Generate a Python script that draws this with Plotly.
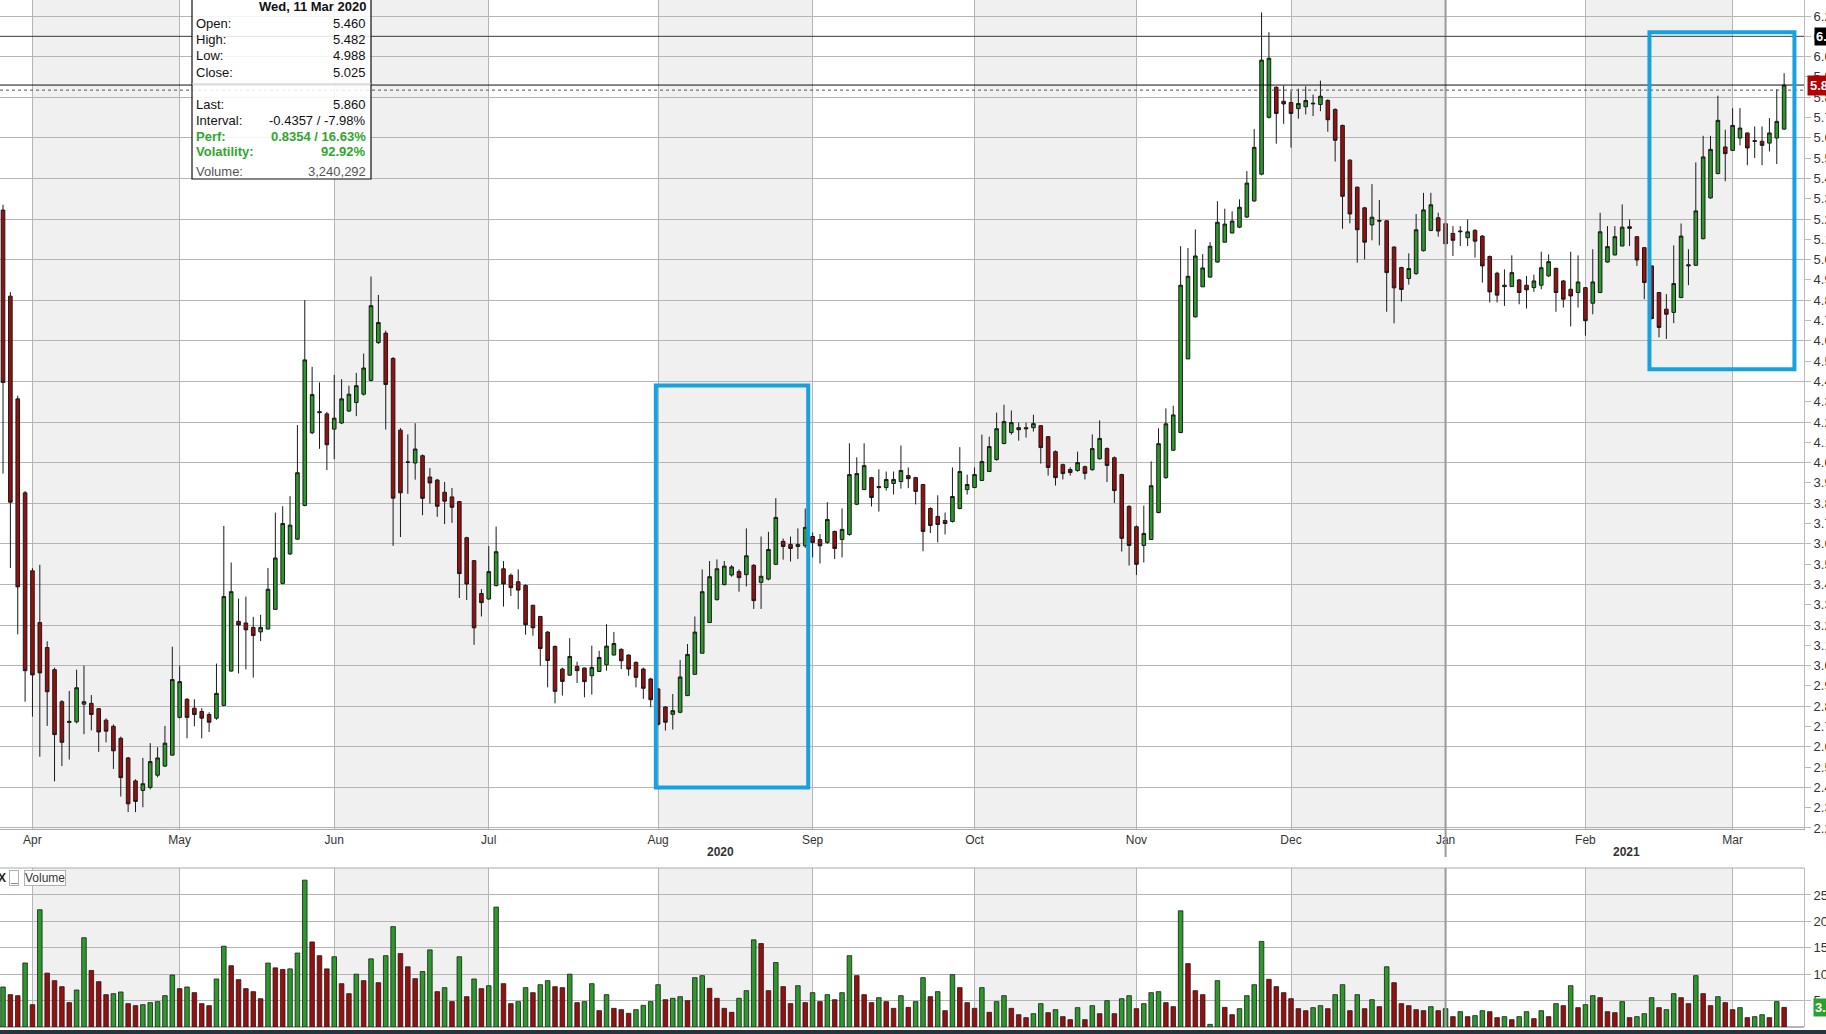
import pandas as pd
import plotly.graph_objects as go

# trading days shown (exchange holidays removed)
holidays = ["2020-04-10", "2020-04-13", "2020-06-08", "2020-12-25",
            "2020-12-28", "2021-01-01", "2021-01-26"]
dates = pd.bdate_range("2020-03-26", "2021-03-10", freq="C", holidays=holidays)
days = [d.strftime("%Y-%m-%d") for d in dates]

opens = [
    5.244, 4.820, 4.314, 3.851, 3.467, 3.212, 3.089, 2.980, 2.822, 2.720,
    2.723, 2.810, 2.814, 2.788, 2.731, 2.701, 2.642, 2.545, 2.432, 2.385,
    2.400, 2.460, 2.505, 2.559, 2.745, 2.834, 2.790, 2.774, 2.759, 2.741,
    2.804, 2.973, 3.218, 3.210, 3.188, 3.166, 3.180, 3.277, 3.405, 3.550,
    3.623, 3.789, 4.147, 4.246, 4.240, 4.165, 4.195, 4.254, 4.296, 4.337,
    4.405, 4.591, 4.638, 4.513, 4.160, 4.001, 3.998, 4.034, 3.929, 3.914,
    3.854, 3.831, 3.808, 3.630, 3.517, 3.355, 3.328, 3.394, 3.477, 3.445,
    3.413, 3.395, 3.297, 3.242, 3.165, 3.094, 2.983, 2.953, 2.996, 2.988,
    2.950, 2.971, 3.004, 3.052, 3.080, 3.052, 3.016, 2.983, 2.934, 2.885,
    2.796, 2.760, 2.770, 2.852, 2.957, 3.061, 3.212, 3.325, 3.399, 3.446,
    3.463, 3.448, 3.494, 3.410, 3.426, 3.499, 3.612, 3.597, 3.587, 3.590,
    3.636, 3.621, 3.607, 3.661, 3.621, 3.646, 3.795, 3.867, 3.926, 3.882,
    3.877, 3.897, 3.907, 3.936, 3.926, 3.892, 3.774, 3.735, 3.715, 3.710,
    3.774, 3.867, 3.877, 3.912, 3.956, 4.015, 4.094, 4.148, 4.172, 4.172,
    4.172, 4.182, 4.128, 4.054, 3.990, 3.966, 3.961, 3.980, 3.965, 4.019,
    4.069, 4.024, 3.941, 3.784, 3.684, 3.592, 3.621, 3.754, 3.926, 4.061,
    4.148, 4.511, 4.718, 4.866, 4.914, 4.988, 5.086, 5.131, 5.160, 5.210,
    5.289, 5.421, 5.701, 5.849, 5.780, 5.774, 5.744, 5.753, 5.767, 5.764,
    5.784, 5.740, 5.661, 5.490, 5.357, 5.255, 5.171, 5.193, 5.191, 5.062,
    4.961, 4.907, 4.931, 5.044, 5.144, 5.206, 5.177, 5.129, 5.137, 5.108,
    5.144, 5.116, 5.015, 4.933, 4.874, 4.867, 4.900, 4.874, 4.862, 4.874,
    4.920, 4.957, 4.895, 4.854, 4.838, 4.862, 4.785, 4.838, 4.988, 5.023,
    5.067, 5.162, 5.113, 5.059, 4.969, 4.838, 4.756, 4.740, 4.813, 4.969,
    4.972, 5.103, 5.304, 5.424, 5.555, 5.538, 5.599, 5.624, 5.586, 5.583,
    5.574, 5.599, 5.643,
]
highs = [
    5.270, 4.840, 4.330, 3.860, 3.480, 3.497, 3.120, 2.990, 2.830, 2.875,
    2.980, 3.000, 2.855, 2.790, 2.740, 2.710, 2.650, 2.550, 2.440, 2.545,
    2.618, 2.598, 2.703, 3.093, 3.000, 2.840, 2.834, 2.790, 2.770, 3.010,
    3.688, 3.508, 3.330, 3.340, 3.240, 3.250, 3.481, 3.754, 3.785, 3.835,
    4.185, 4.800, 4.472, 4.395, 4.250, 4.432, 4.411, 4.379, 4.442, 4.537,
    4.917, 4.826, 4.650, 4.520, 4.170, 4.139, 4.194, 4.040, 3.973, 3.920,
    3.905, 3.875, 3.810, 3.635, 3.520, 3.377, 3.589, 3.685, 3.515, 3.454,
    3.474, 3.400, 3.300, 3.245, 3.170, 3.100, 2.990, 3.135, 3.019, 2.990,
    3.098, 3.073, 3.204, 3.166, 3.085, 3.055, 3.020, 2.990, 2.940, 2.890,
    2.800, 2.860, 3.027, 3.106, 3.242, 3.474, 3.515, 3.523, 3.515, 3.495,
    3.474, 3.676, 3.500, 3.636, 3.659, 3.825, 3.626, 3.636, 3.676, 3.774,
    3.656, 3.648, 3.805, 3.665, 3.774, 4.095, 4.026, 4.095, 3.930, 3.967,
    3.956, 3.956, 4.084, 3.976, 3.930, 3.895, 3.780, 3.839, 3.754, 3.976,
    4.076, 3.941, 3.976, 4.138, 4.128, 4.246, 4.285, 4.257, 4.197, 4.197,
    4.236, 4.185, 4.130, 4.060, 3.995, 3.977, 4.054, 3.985, 4.139, 4.208,
    4.075, 4.030, 3.945, 3.790, 3.690, 3.788, 4.006, 4.169, 4.267, 4.280,
    5.066, 5.057, 5.149, 5.027, 5.086, 5.288, 5.251, 5.238, 5.297, 5.436,
    5.643, 6.218, 6.120, 5.854, 5.857, 5.829, 5.842, 5.854, 5.813, 5.882,
    5.790, 5.745, 5.665, 5.495, 5.360, 5.260, 5.372, 5.294, 5.195, 5.065,
    4.965, 5.031, 5.225, 5.329, 5.329, 5.231, 5.180, 5.165, 5.165, 5.198,
    5.150, 5.120, 5.020, 4.940, 4.952, 5.021, 4.905, 4.920, 4.926, 5.039,
    5.026, 4.960, 4.900, 5.039, 5.021, 4.865, 5.051, 5.231, 5.165, 5.165,
    5.272, 5.198, 5.115, 5.060, 4.970, 4.840, 4.830, 5.070, 5.178, 5.051,
    5.479, 5.610, 5.610, 5.808, 5.640, 5.746, 5.746, 5.625, 5.656, 5.656,
    5.697, 5.840, 5.918,
]
lows = [
    3.946, 3.481, 3.154, 2.822, 2.749, 2.551, 2.703, 2.430, 2.505, 2.537,
    2.715, 2.662, 2.681, 2.575, 2.622, 2.491, 2.355, 2.278, 2.278, 2.302,
    2.390, 2.450, 2.500, 2.555, 2.740, 2.642, 2.701, 2.642, 2.673, 2.733,
    2.800, 2.970, 2.961, 2.981, 2.941, 3.121, 3.180, 3.275, 3.400, 3.545,
    3.620, 3.785, 4.140, 4.068, 3.963, 4.017, 4.190, 4.250, 4.229, 4.330,
    4.400, 4.585, 4.163, 3.590, 3.633, 3.846, 3.916, 3.741, 3.798, 3.733,
    3.697, 3.703, 3.333, 3.323, 3.102, 3.242, 3.325, 3.390, 3.291, 3.343,
    3.278, 3.152, 3.147, 2.999, 2.893, 2.814, 2.852, 2.950, 2.914, 2.844,
    2.857, 2.970, 2.975, 3.050, 2.983, 2.950, 2.893, 2.836, 2.795, 2.705,
    2.680, 2.685, 2.765, 2.850, 2.955, 3.060, 3.210, 3.320, 3.395, 3.438,
    3.364, 3.390, 3.279, 3.279, 3.420, 3.495, 3.522, 3.513, 3.525, 3.580,
    3.533, 3.503, 3.600, 3.525, 3.533, 3.640, 3.790, 3.865, 3.784, 3.759,
    3.862, 3.843, 3.872, 3.874, 3.794, 3.563, 3.653, 3.607, 3.646, 3.705,
    3.770, 3.843, 3.875, 3.910, 3.955, 4.010, 4.090, 4.138, 4.108, 4.123,
    4.153, 3.995, 3.936, 3.887, 3.917, 3.936, 3.955, 3.917, 3.960, 4.015,
    3.904, 3.801, 3.562, 3.493, 3.447, 3.508, 3.620, 3.750, 3.920, 4.060,
    4.145, 4.510, 4.715, 4.865, 4.910, 4.985, 5.085, 5.130, 5.155, 5.205,
    5.285, 5.415, 5.695, 5.571, 5.669, 5.552, 5.694, 5.715, 5.707, 5.731,
    5.630, 5.483, 5.152, 5.179, 4.985, 5.001, 5.095, 5.070, 4.743, 4.686,
    4.794, 4.877, 4.925, 5.040, 5.140, 5.113, 4.959, 5.018, 5.067, 5.067,
    5.010, 4.887, 4.789, 4.789, 4.772, 4.865, 4.780, 4.759, 4.841, 4.854,
    4.915, 4.743, 4.764, 4.671, 4.764, 4.625, 4.731, 4.835, 4.985, 5.021,
    5.067, 5.067, 4.969, 4.805, 4.705, 4.617, 4.609, 4.687, 4.810, 4.874,
    4.970, 5.100, 5.300, 5.420, 5.386, 5.535, 5.563, 5.465, 5.501, 5.465,
    5.533, 5.471, 5.640,
]
closes = [
    4.395, 3.805, 3.388, 2.975, 2.954, 2.964, 2.871, 2.660, 2.622, 2.725,
    2.891, 2.822, 2.759, 2.673, 2.677, 2.580, 2.448, 2.319, 2.331, 2.418,
    2.527, 2.545, 2.618, 2.931, 2.921, 2.745, 2.759, 2.741, 2.721, 2.863,
    3.340, 3.364, 3.200, 3.176, 3.148, 3.188, 3.376, 3.530, 3.700, 3.692,
    3.950, 4.506, 4.335, 4.250, 4.088, 4.219, 4.314, 4.337, 4.379, 4.466,
    4.773, 4.690, 4.385, 3.825, 3.851, 4.003, 4.067, 3.824, 3.900, 3.785,
    3.810, 3.780, 3.453, 3.402, 3.186, 3.310, 3.463, 3.561, 3.402, 3.384,
    3.372, 3.201, 3.186, 3.084, 3.025, 2.873, 2.922, 3.045, 2.975, 2.921,
    2.991, 3.040, 3.096, 3.109, 3.024, 2.983, 2.942, 2.888, 2.832, 2.711,
    2.721, 2.778, 2.944, 3.055, 3.165, 3.364, 3.438, 3.477, 3.490, 3.486,
    3.433, 3.541, 3.320, 3.440, 3.572, 3.730, 3.587, 3.577, 3.597, 3.681,
    3.607, 3.590, 3.720, 3.577, 3.671, 3.941, 3.946, 3.985, 3.828, 3.877,
    3.917, 3.917, 3.961, 3.921, 3.858, 3.661, 3.690, 3.695, 3.700, 3.833,
    3.956, 3.892, 3.941, 4.005, 4.079, 4.167, 4.202, 4.197, 4.162, 4.167,
    4.192, 4.074, 3.976, 3.926, 3.946, 3.951, 4.000, 3.947, 4.069, 4.119,
    3.986, 3.862, 3.627, 3.592, 3.499, 3.651, 3.886, 4.093, 4.191, 4.235,
    4.874, 4.918, 5.018, 4.959, 5.066, 5.184, 5.175, 5.190, 5.258, 5.377,
    5.553, 5.983, 5.992, 5.720, 5.767, 5.720, 5.769, 5.784, 5.770, 5.805,
    5.689, 5.588, 5.312, 5.225, 5.147, 5.086, 5.209, 5.190, 4.936, 4.861,
    4.853, 4.956, 5.147, 5.245, 5.270, 5.141, 5.078, 5.095, 5.140, 5.137,
    5.091, 4.969, 4.841, 4.825, 4.867, 4.936, 4.838, 4.851, 4.895, 4.960,
    4.990, 4.838, 4.805, 4.821, 4.890, 4.699, 4.890, 5.137, 5.064, 5.113,
    5.160, 5.154, 4.998, 4.887, 4.710, 4.666, 4.731, 4.882, 5.116, 4.974,
    5.240, 5.506, 5.543, 5.686, 5.522, 5.661, 5.648, 5.550, 5.583, 5.563,
    5.624, 5.681, 5.860,
]
# volume in millions of shares
volumes = [
    7.57, 6.12, 5.93, 12.12, 4.23, 22.2, 10.2, 8.77, 7.63, 4.61,
    7.0, 16.9, 10.7, 8.58, 6.12, 6.31, 6.63, 4.42, 4.04, 4.23,
    4.61, 4.80, 5.93, 9.84, 7.26, 7.57, 6.50, 4.42, 4.04, 9.09,
    15.3, 11.6, 8.96, 7.26, 6.69, 5.36, 12.1, 11.2, 10.9, 11.0,
    14.0, 27.8, 16.1, 13.5, 11.0, 13.3, 8.2, 6.31, 10.0, 8.77,
    12.9, 8.39, 13.5, 19.0, 13.9, 11.4, 9.15, 10.5, 14.6, 6.69,
    7.45, 4.80, 13.3, 5.74, 9.09, 7.26, 7.82, 22.7, 8.2, 4.42,
    4.80, 7.45, 6.50, 8.01, 8.77, 7.63, 7.45, 10.0, 4.61, 4.80,
    8.2, 3.09, 6.12, 3.53, 3.28, 2.59, 3.28, 4.10, 4.80, 8.01,
    5.17, 5.43, 5.74, 4.98, 9.34, 9.72, 7.32, 5.43, 3.53, 2.78,
    5.43, 6.88, 16.5, 15.8, 6.88, 12.2, 7.64, 4.42, 7.82, 4.61,
    6.50, 4.80, 6.12, 5.17, 6.50, 13.5, 9.72, 6.12, 4.61, 5.55,
    4.80, 3.53, 5.93, 3.72, 4.80, 9.34, 5.74, 6.69, 3.09, 9.91,
    7.45, 4.61, 3.53, 7.45, 2.78, 4.80, 5.93, 3.53, 2.33, 1.77,
    2.52, 4.42, 2.71, 3.28, 1.96, 1.39, 3.66, 1.39, 4.04, 2.52,
    4.98, 2.52, 5.36, 5.93, 3.47, 4.42, 6.50, 6.69, 4.61, 3.85,
    22.0, 12.0, 6.88, 6.12, 0.50, 8.77, 3.72, 2.33, 3.47, 5.93,
    8.01, 16.2, 9.02, 7.64, 6.50, 5.36, 3.47, 3.09, 3.66, 4.04,
    3.47, 6.12, 8.01, 3.09, 6.12, 3.47, 5.17, 3.85, 11.4, 8.39,
    4.42, 4.04, 3.28, 3.09, 3.85, 3.09, 3.47, 1.96, 2.90, 1.96,
    2.15, 3.09, 2.90, 1.77, 1.96, 1.39, 1.96, 2.90, 1.58, 3.09,
    1.96, 4.42, 4.04, 7.82, 3.66, 4.23, 5.93, 5.55, 2.90, 2.71,
    4.80, 1.77, 1.96, 2.52, 5.55, 3.66, 3.28, 6.31, 5.55, 4.42,
    9.72, 6.31, 4.04, 5.74, 4.61, 3.28, 3.66, 1.77, 1.96, 2.33,
    1.77, 4.80, 3.72,
]
# 1 = green volume bar, 0 = red
vol_up = [
    1, 0, 0, 1, 0, 1, 0, 0, 0, 0,  1, 1, 0, 0, 0, 1, 1, 0, 0, 1,
    1, 1, 1, 1, 0, 1, 0, 0, 0, 1,  1, 0, 0, 0, 0, 0, 1, 0, 0, 1,
    1, 1, 0, 0, 0, 1, 0, 0, 1, 0,  1, 0, 1, 1, 0, 0, 0, 1, 1, 0,
    1, 0, 1, 0, 1, 0, 1, 1, 0, 0,  1, 1, 0, 1, 1, 0, 0, 1, 0, 1,
    1, 0, 1, 0, 0, 0, 1, 1, 1, 1,  0, 1, 1, 0, 1, 1, 0, 0, 0, 0,
    1, 1, 1, 0, 0, 1, 0, 0, 1, 0,  1, 0, 1, 0, 1, 1, 0, 0, 0, 1,
    0, 0, 1, 0, 1, 1, 0, 1, 0, 1,  0, 0, 0, 1, 0, 1, 1, 0, 0, 0,
    1, 1, 0, 1, 0, 0, 1, 0, 1, 0,  1, 0, 1, 1, 0, 1, 1, 1, 0, 0,
    1, 0, 0, 0, 1, 1, 0, 0, 1, 1,  1, 1, 0, 0, 0, 0, 0, 0, 1, 1,
    0, 1, 1, 0, 1, 0, 1, 0, 1, 0,  0, 0, 0, 0, 1, 0, 1, 0, 1, 0,
    1, 1, 0, 0, 1, 0, 1, 1, 0, 1,  0, 1, 0, 1, 0, 1, 1, 0, 0, 0,
    1, 0, 1, 1, 1, 0, 1, 1, 0, 0,  1, 0, 0, 1, 0, 0, 1, 0, 1, 1,
    0, 1, 0,
]

# highlighted windows: first day, last day, low, high
boxes = [("2020-08-03", "2020-08-31", 2.40, 4.38),
         ("2021-02-12", "2021-03-10", 4.46, 6.12)]
ref_lines = [(6.10, "#3a3a3a", "solid"), (5.86, "#111111", "solid"),
             (5.835, "#555555", "dot")]

n = min(len(days), len(opens), len(highs), len(lows), len(closes), len(volumes), len(vol_up))
days, opens, highs, lows, closes = days[:n], opens[:n], highs[:n], lows[:n], closes[:n]
volumes, vol_up = volumes[:n], vol_up[:n]
dates = dates[:n]

GREEN, RED, EDGE = "#2b9a2b", "#990f0f", "#1a1a1a"
GRID, SHADE, TXT = "#b5b5b5", "#f0f0f0", "#333333"
BLUE = "#16a2e0"
FONT = "Arial, Liberation Sans, sans-serif"

W, H = 1826, 1034
MR = 22
PW, PH = W - MR, H


def px(x):
    return x / PW


def py(y):
    return 1 - y / PH


XR = [-0.41, 244.7]
PRICE_RANGE = [2.195, 6.279]

month_idx = [i for i in range(1, n) if dates[i].month != dates[i - 1].month]
month_txt = [dates[i].strftime("%b") for i in month_idx]
month_vals = [days[i] for i in month_idx]
jan_idx = [i for i in month_idx if dates[i].month == 1][0]

fig = go.Figure()
fig.add_trace(go.Candlestick(
    x=days, open=opens, high=highs, low=lows, close=closes,
    increasing=dict(fillcolor=GREEN, line=dict(color=EDGE, width=1)),
    decreasing=dict(fillcolor=RED, line=dict(color=EDGE, width=1)),
    whiskerwidth=0, hoverinfo="none", showlegend=False,
    xaxis="x", yaxis="y",
))
fig.add_trace(go.Bar(
    x=days, y=volumes,
    marker=dict(color=[GREEN if u else RED for u in vol_up],
                line=dict(color=EDGE, width=0.8)),
    hoverinfo="none", showlegend=False, xaxis="x2", yaxis="y2",
))
# carrier for the right-hand price labels
fig.add_trace(go.Scatter(x=[days[0]], y=[closes[0]], mode="markers",
                         marker=dict(opacity=0), hoverinfo="skip",
                         showlegend=False, xaxis="x", yaxis="y3"))

shapes = []
bounds = month_idx + [XR[1]]
for k, i in enumerate(month_idx):
    if dates[i].month in (2, 4, 6, 8, 10, 12):
        for xr, yr in (("x", "y domain"), ("x2", "y2 domain")):
            shapes.append(dict(type="rect", xref=xr, yref=yr, x0=i, x1=bounds[k + 1],
                               y0=0, y1=1, fillcolor=SHADE, line=dict(width=0),
                               layer="below"))

# year boundary
shapes.append(dict(type="line", xref="x", yref="paper", x0=jan_idx, x1=jan_idx,
                   y0=py(857), y1=1, line=dict(color="#9a9a9a", width=2)))
shapes.append(dict(type="line", xref="x2", yref="y2 domain", x0=jan_idx, x1=jan_idx,
                   y0=0, y1=1, line=dict(color="#9a9a9a", width=2)))

for val, col, dash in ref_lines:
    shapes.append(dict(type="line", xref="x domain", yref="y", x0=0, x1=1, y0=val, y1=val,
                       line=dict(color=col, width=1, dash=dash)))

for d0, d1, lo, hi in boxes:
    x0 = days.index(d0) - 0.3
    x1 = min(days.index(d1) + 1.4, XR[1] - 0.35) if d1 == days[-1] else days.index(d1) + 0.4
    shapes.append(dict(type="rect", xref="x", yref="y", x0=x0, x1=x1, y0=lo, y1=hi,
                       line=dict(color=BLUE, width=4), fillcolor="rgba(0,0,0,0)"))

# volume pane top border and bottom frame
shapes.append(dict(type="line", xref="paper", yref="y2 domain", x0=0, x1=1, y0=1, y1=1,
                   line=dict(color="#aaaaaa", width=1)))
shapes.append(dict(type="line", xref="paper", yref="paper", x0=0, x1=W / PW,
                   y0=py(1032), y1=py(1032), line=dict(color="#26343c", width=4)))

# info box
shapes.append(dict(type="rect", xref="paper", yref="paper", x0=px(192), x1=px(371),
                   y0=py(179), y1=py(-5), fillcolor="rgba(255,255,255,0.86)",
                   line=dict(color="#111111", width=1.2), layer="above"))
shapes.append(dict(type="line", xref="paper", yref="paper", x0=px(192), x1=px(371),
                   y0=py(84), y1=py(84), line=dict(color="#c8c8c8", width=1)))

ann = []
ann.append(dict(text="<b>Wed, 11 Mar 2020</b>", x=px(368), y=py(7), xanchor="right"))
info_rows = [
    ("Open:", "5.460", "#111111", False, 24),
    ("High:", "5.482", "#111111", False, 40),
    ("Low:", "4.988", "#111111", False, 56),
    ("Close:", "5.025", "#111111", False, 72),
    ("Last:", "5.860", "#111111", False, 104),
    ("Interval:", "-0.4357 / -7.98%", "#111111", False, 120),
    ("Perf:", "0.8354 / 16.63%", "#2ea82e", True, 136),
    ("Volatility:", "92.92%", "#2ea82e", True, 152),
    ("Volume:", "3,240,292", "#555555", False, 172),
]
for lab, val, col, bold, yy in info_rows:
    fmt = "<b>{}</b>" if bold else "{}"
    ann.append(dict(text=fmt.format(lab), x=px(194), y=py(yy), xanchor="left",
                    font=dict(color=col, size=13, family=FONT)))
    ann.append(dict(text=fmt.format(val), x=px(368), y=py(yy), xanchor="right",
                    font=dict(color=col, size=13, family=FONT)))

# year labels
ann.append(dict(text="<b>2020</b>", x=px(720), y=py(852), xanchor="center",
                font=dict(size=12, color=TXT, family=FONT)))
ann.append(dict(text="<b>2021</b>", x=px(1626), y=py(852), xanchor="center",
                font=dict(size=12, color=TXT, family=FONT)))

# volume pane caption buttons
ann.append(dict(text="<b>X</b>", x=px(-4), y=py(878), xanchor="left",
                font=dict(size=12, color="#222", family=FONT)))
ann.append(dict(text="<b>_</b>", x=px(9), y=py(878), xanchor="left", bgcolor="white",
                bordercolor="#b0b0b0", borderwidth=1, borderpad=0,
                font=dict(size=12, color="#222", family=FONT)))
ann.append(dict(text="Volume", x=px(24), y=py(878), xanchor="left", bgcolor="white",
                bordercolor="#b0b0b0", borderwidth=1, borderpad=0,
                font=dict(size=12, color="#333", family=FONT)))

# last-value tags at the right edge
ann.append(dict(text="<b>6.10</b>", x=px(1814), y=6.10, yref="y", xanchor="left",
                bgcolor="#000000", font=dict(size=13, color="white", family=FONT),
                borderpad=1))
ann.append(dict(text="<b>5.86</b>", x=px(1807), y=5.86, yref="y", xanchor="left",
                bgcolor="#b00000", font=dict(size=13, color="white", family=FONT),
                borderpad=2))
ann.append(dict(text="<b>3.72</b>", x=px(1813), y=volumes[-1], yref="y2", xanchor="left",
                bgcolor="#2ba02b", font=dict(size=13, color="white", family=FONT),
                borderpad=1))

for a in ann:
    a.setdefault("xref", "paper")
    a.setdefault("yref", "paper")
    a.setdefault("yanchor", "middle")
    a.setdefault("showarrow", False)
    a.setdefault("font", dict(size=13, color="#111111", family=FONT))

fig.update_layout(
    width=W, height=H,
    margin=dict(l=0, r=MR, t=0, b=0, pad=0),
    paper_bgcolor="white", plot_bgcolor="white",
    font=dict(family=FONT, size=12, color=TXT),
    showlegend=False, bargap=0.38, hovermode=False,
    shapes=shapes, annotations=ann,
    xaxis=dict(type="category", range=XR, domain=[0, 1], anchor="y",
               tickmode="array", tickvals=month_vals, ticktext=month_txt,
               showgrid=True, gridcolor=GRID, gridwidth=1, ticks="",
               tickfont=dict(size=12, color=TXT), showline=True, linecolor="#aaaaaa",
               zeroline=False, rangeslider=dict(visible=False), automargin=False,
               fixedrange=True),
    xaxis2=dict(type="category", matches="x", anchor="y2", domain=[0, 1],
                tickmode="array", tickvals=month_vals, showticklabels=False,
                showgrid=True, gridcolor=GRID, ticks="", zeroline=False,
                automargin=False, fixedrange=True),
    yaxis=dict(domain=[py(829), 1], range=PRICE_RANGE, dtick=0.2, tick0=0,
               showgrid=True, gridcolor=GRID, showticklabels=False, zeroline=False,
               side="right", automargin=False, fixedrange=True),
    yaxis3=dict(overlaying="y", anchor="x", side="right", range=PRICE_RANGE,
                dtick=0.1, tick0=0, tickformat=".1f", showgrid=False, zeroline=False,
                ticks="outside", ticklen=6, tickcolor="#bbbbbb",
                tickfont=dict(size=13, color=TXT), showline=True, linecolor="#bbbbbb",
                automargin=False, fixedrange=True),
    yaxis2=dict(domain=[py(1027), py(868)], range=[0, 30.1], anchor="x2", side="right",
                tickmode="array", tickvals=[5, 10, 15, 20, 25],
                showgrid=True, gridcolor=GRID, zeroline=True, zerolinecolor=GRID,
                ticks="outside", ticklen=6, tickcolor="#bbbbbb",
                tickfont=dict(size=13, color=TXT), showline=True, linecolor="#bbbbbb",
                automargin=False, fixedrange=True),
)

fig.write_html("out.html", config=dict(displayModeBar=False, staticPlot=True),
               post_script="document.body.style.margin='0';")
